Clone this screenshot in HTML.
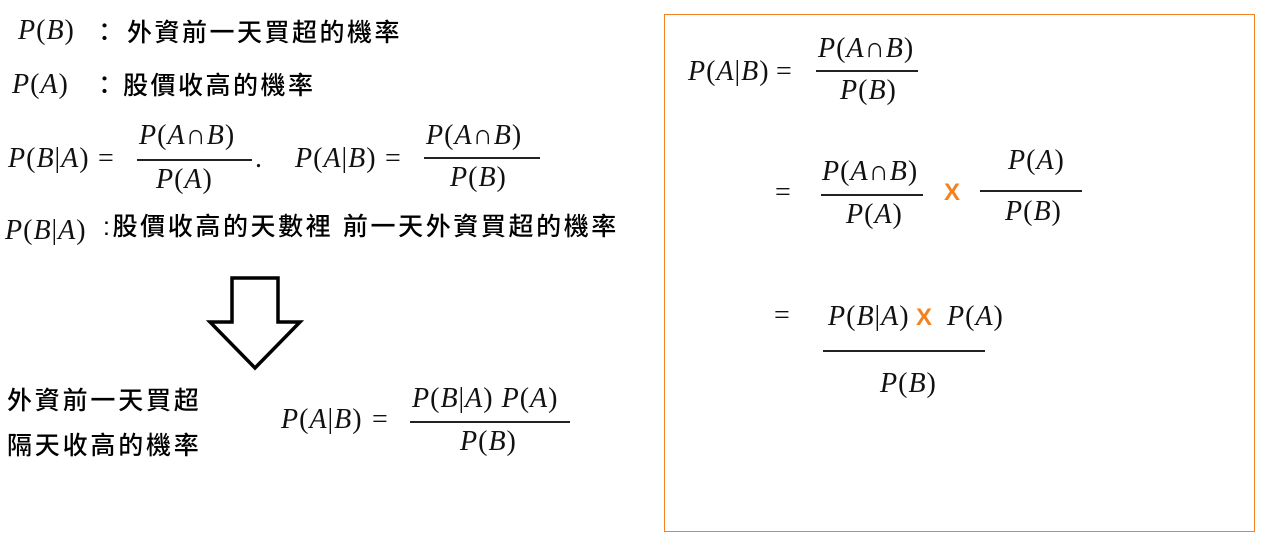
<!DOCTYPE html>
<html><head><meta charset="utf-8"><style>
body{margin:0;width:1266px;height:545px;background:#fff;position:relative;overflow:hidden}
.a{position:absolute;white-space:nowrap}
.m{font-family:"Liberation Serif",serif;font-style:italic;font-size:28px;line-height:28px;color:#111;letter-spacing:1px}
.m .u{font-style:normal}
.c{font-family:"Liberation Sans","Noto Sans CJK TC",sans-serif;font-size:25px;line-height:28px;color:#000;letter-spacing:2.5px;font-weight:500}
.bar{position:absolute;height:2px;background:#222}
.x{font-family:"Liberation Sans",sans-serif;font-weight:bold;color:#f58220;font-size:24px;line-height:24px}
</style></head><body>
<div class="a m" style="left:18px;top:17px">P<span class="u">(</span>B<span class="u">)</span></div>
<div class="a c" style="left:92px;top:19px">：</div>
<div class="a c" style="left:127px;top:19px">外資前一天買超的機率</div>
<div class="a m" style="left:12px;top:71px">P<span class="u">(</span>A<span class="u">)</span></div>
<div class="a c" style="left:92px;top:72px">：</div>
<div class="a c" style="left:123px;top:72px">股價收高的機率</div>

<div class="a m" style="left:8px;top:145px">P<span class="u">(</span>B<span class="u">|</span>A<span class="u">)</span></div>
<div class="a m" style="left:98px;top:145px"><span class="u">=</span></div>
<div class="a m" style="left:139px;top:122px">P<span class="u">(</span>A<span class="u">∩</span>B<span class="u">)</span></div>
<div class="bar" style="left:137px;top:159px;width:115px"></div>
<div class="a m" style="left:156px;top:166px">P<span class="u">(</span>A<span class="u">)</span></div>
<div class="a m" style="left:255px;top:145px"><span class="u">.</span></div>
<div class="a m" style="left:295px;top:145px">P<span class="u">(</span>A<span class="u">|</span>B<span class="u">)</span></div>
<div class="a m" style="left:385px;top:145px"><span class="u">=</span></div>
<div class="a m" style="left:426px;top:122px">P<span class="u">(</span>A<span class="u">∩</span>B<span class="u">)</span></div>
<div class="bar" style="left:424px;top:157px;width:116px"></div>
<div class="a m" style="left:450px;top:164px">P<span class="u">(</span>B<span class="u">)</span></div>

<div class="a m" style="left:5px;top:217px">P<span class="u">(</span>B<span class="u">|</span>A<span class="u">)</span></div>
<div class="a c" style="left:103px;top:213px;letter-spacing:2.6px">:股價收高的天數裡 前一天外資買超的機率</div>

<svg class="a" style="left:0;top:0" width="320" height="380"><polygon points="232,278 278,278 278,322 300,322 255,368 210,322 232,322" fill="#fff" stroke="#000" stroke-width="3.5" stroke-linejoin="miter"/></svg>

<div class="a c" style="left:7px;top:387px;letter-spacing:2.8px">外資前一天買超</div>
<div class="a c" style="left:7px;top:432px;letter-spacing:2.8px">隔天收高的機率</div>
<div class="a m" style="left:281px;top:406px">P<span class="u">(</span>A<span class="u">|</span>B<span class="u">)</span></div>
<div class="a m" style="left:372px;top:406px"><span class="u">=</span></div>
<div class="a m" style="left:412px;top:385px">P<span class="u">(</span>B<span class="u">|</span>A<span class="u">)</span> P<span class="u">(</span>A<span class="u">)</span></div>
<div class="bar" style="left:410px;top:421px;width:160px"></div>
<div class="a m" style="left:460px;top:428px">P<span class="u">(</span>B<span class="u">)</span></div>

<div class="a" style="left:664px;top:14px;width:589px;height:516px;border:1px solid #f58220"></div>
<div class="a m" style="left:688px;top:58px">P<span class="u">(</span>A<span class="u">|</span>B<span class="u">)</span></div>
<div class="a m" style="left:776px;top:58px"><span class="u">=</span></div>
<div class="a m" style="left:818px;top:35px">P<span class="u">(</span>A<span class="u">∩</span>B<span class="u">)</span></div>
<div class="bar" style="left:816px;top:70px;width:102px"></div>
<div class="a m" style="left:840px;top:77px">P<span class="u">(</span>B<span class="u">)</span></div>

<div class="a m" style="left:775px;top:179px"><span class="u">=</span></div>
<div class="a m" style="left:822px;top:158px">P<span class="u">(</span>A<span class="u">∩</span>B<span class="u">)</span></div>
<div class="bar" style="left:821px;top:194px;width:102px"></div>
<div class="a m" style="left:846px;top:201px">P<span class="u">(</span>A<span class="u">)</span></div>
<div class="a x" style="left:944px;top:181px">X</div>
<div class="a m" style="left:1008px;top:147px">P<span class="u">(</span>A<span class="u">)</span></div>
<div class="bar" style="left:980px;top:190px;width:102px"></div>
<div class="a m" style="left:1005px;top:198px">P<span class="u">(</span>B<span class="u">)</span></div>

<div class="a m" style="left:774px;top:302px"><span class="u">=</span></div>
<div class="a m" style="left:828px;top:303px">P<span class="u">(</span>B<span class="u">|</span>A<span class="u">)</span></div>
<div class="a x" style="left:916px;top:306px">X</div>
<div class="a m" style="left:947px;top:303px">P<span class="u">(</span>A<span class="u">)</span></div>
<div class="bar" style="left:823px;top:350px;width:162px"></div>
<div class="a m" style="left:880px;top:370px">P<span class="u">(</span>B<span class="u">)</span></div>
</body></html>
